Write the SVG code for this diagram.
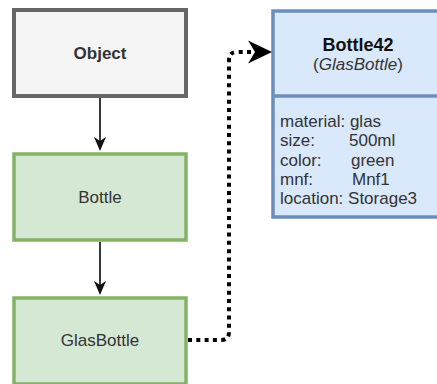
<svg xmlns="http://www.w3.org/2000/svg" width="437" height="384" viewBox="0 0 437 384">
  <style>
    .lbl { font-family: "Liberation Sans", Arial, sans-serif; font-size: 17px; fill: #333333; }
    .bold { font-weight: bold; }
    .center { text-anchor: middle; }
    .gray { fill: #f5f5f5; stroke: #666666; stroke-width: 4; }
    .green { fill: #d5e8d4; stroke: #82b366; stroke-width: 3.5; }
    .blue { fill: #dae8fc; stroke: #6c8ebf; stroke-width: 3.5; }
    .solid { stroke: #3a3a3a; stroke-width: 2; fill: none; }
    .dotted { stroke: #000000; stroke-width: 4; stroke-dasharray: 4 4.3; fill: none; }
  </style>

  <!-- class hierarchy -->
  <g id="node-object">
    <rect class="gray" x="14" y="10" width="172" height="86"/>
    <text class="lbl bold center" x="100" y="59">Object</text>
  </g>
  <g id="node-bottle">
    <rect class="green" x="14" y="154" width="172" height="86"/>
    <text class="lbl center" x="100" y="203">Bottle</text>
  </g>
  <g id="node-glasbottle">
    <rect class="green" x="14" y="298" width="172" height="86"/>
    <text class="lbl center" x="100" y="346">GlasBottle</text>
  </g>

  <!-- instance with its attribute compartment -->
  <g id="node-bottle42">
    <rect class="blue" x="273" y="11" width="172" height="206"/>
    <line x1="273" y1="96" x2="445" y2="96" stroke="#6c8ebf" stroke-width="3.5"/>
    <text class="lbl bold center" x="358" y="51" style="fill:#111111;font-size:18px">Bottle42</text>
    <text class="lbl center" x="358" y="70">(<tspan font-style="italic">GlasBottle</tspan>)</text>
    <text class="lbl" x="280" y="127">material: glas</text>
    <text class="lbl" x="280" y="146">size:<tspan x="349">500ml</tspan></text>
    <text class="lbl" x="280" y="166">color:<tspan x="351">green</tspan></text>
    <text class="lbl" x="280" y="185">mnf:<tspan x="352">Mnf1</tspan></text>
    <text class="lbl" x="280" y="204">location: Storage3</text>
  </g>

  <g id="connectors">
    <line class="solid" x1="100" y1="98" x2="100" y2="142"/>
    <polygon points="100,151 94,137 100,141 106,137" fill="#111111"/>
    <line class="solid" x1="100" y1="242" x2="100" y2="286"/>
    <polygon points="100,295 94,281 100,285 106,281" fill="#111111"/>
    <path class="dotted" d="M188,340 H221 Q229,340 229,332 V60 Q229,52 237,52 H252"/>
    <polygon points="272,52 248,40.5 255,52 248,63.5" fill="#000000"/>
  </g>
</svg>
